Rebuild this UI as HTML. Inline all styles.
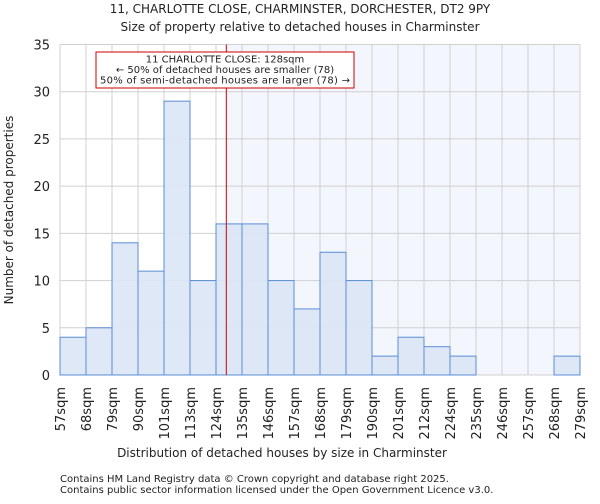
<!DOCTYPE html>
<html><head><meta charset="utf-8"><style>
body{margin:0;background:#fff;font-family:"DejaVu Sans","Liberation Sans",sans-serif}
svg text{font-family:"DejaVu Sans","Liberation Sans",sans-serif;fill:#222}
</style></head><body>
<svg id="c" width="600" height="500">
<text x="300" y="13" font-size="12" text-anchor="middle">11, CHARLOTTE CLOSE, CHARMINSTER, DORCHESTER, DT2 9PY</text>
<text x="300" y="31" font-size="12" text-anchor="middle">Size of property relative to detached houses in Charminster</text>
<g id="g"></g>
<text x="282" y="457" font-size="12" text-anchor="middle">Distribution of detached houses by size in Charminster</text>
<text transform="translate(13,210) rotate(-90)" font-size="12" text-anchor="middle">Number of detached properties</text>
<text x="60" y="482" font-size="10" fill="#444">Contains HM Land Registry data © Crown copyright and database right 2025.</text>
<text x="60" y="493" font-size="10" fill="#444">Contains public sector information licensed under the Open Government Licence v3.0.</text>
</svg>
<script>
const labels=["57sqm","68sqm","79sqm","90sqm","101sqm","113sqm","124sqm","135sqm","146sqm","157sqm","168sqm","179sqm","190sqm","201sqm","212sqm","224sqm","235sqm","246sqm","257sqm","268sqm","279sqm"];
const counts=[4,5,14,11,29,10,16,16,10,7,13,10,2,4,3,2,0,0,0,2];
const yTicks=[0,5,10,15,20,25,30,35];
const marker=128;
const x0=60,x1=580,y0=375,y1=44.5,ymax=35;
const n=counts.length,bw=(x1-x0)/n;
const xs=i=>x0+i*bw;
const ys=v=>y0-(v/ymax)*(y0-y1);
const minV=57,maxV=279;
const xv=v=>x0+(v-minV)/(maxV-minV)*(x1-x0);
const g=document.getElementById('g');
const NS="http://www.w3.org/2000/svg";
function mk(t,a){const e=document.createElementNS(NS,t);for(const k in a)e.setAttribute(k,a[k]);g.appendChild(e);return e;}
const mx=xv(marker);
let e=mk('rect',{x:mx,y:y1,width:x1-mx,height:y0-y1,fill:'#f3f6fd'});


for(let i=0;i<=n;i++){e=mk('line',{x1:xs(i),x2:xs(i),y1:y1,y2:y0,stroke:'#d0d0d0','stroke-width':1});

}
yTicks.forEach(t=>{e=mk('line',{x1:x0,x2:x1,y1:ys(t),y2:ys(t),stroke:'#d0d0d0','stroke-width':1});


e=mk('text',{x:x0-10,y:ys(t)+5,'font-size':13,'text-anchor':'end'});e.textContent=t;

});
counts.forEach((v,i)=>{if(v<=0)return;e=mk('rect',{x:xs(i),y:ys(v),width:bw,height:y0-ys(v),fill:'#dae5f5',stroke:'#5b8dd6','stroke-width':1,'fill-opacity':0.9});

});
labels.forEach((l,i)=>{e=mk('text',{transform:`translate(${xs(i)+5},${y0+12}) rotate(-90)`,'font-size':13,'text-anchor':'end'});e.textContent=l;

});
e=mk('line',{x1:mx,x2:mx,y1:y1,y2:y0,stroke:'#cc0000','stroke-width':1});


e=mk('rect',{x:96,y:52,width:258,height:36,fill:'#fff',stroke:'#cc0000','stroke-width':1});


["11 CHARLOTTE CLOSE: 128sqm","← 50% of detached houses are smaller (78)","50% of semi-detached houses are larger (78) →"].forEach((t,i)=>{e=mk('text',{x:225,y:62.5+i*10.5,'font-size':10,'text-anchor':'middle',textLength:i==2?250:null});e.textContent=t;
if(i!=2)e.removeAttribute('textLength');

});
</script>
</body></html>
